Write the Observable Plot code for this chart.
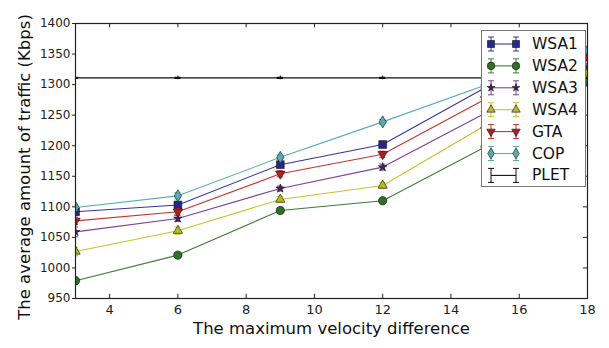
<!DOCTYPE html>
<html><head><meta charset="utf-8">
<script src="https://cdn.jsdelivr.net/npm/d3@7"></script>
<script src="https://cdn.jsdelivr.net/npm/@observablehq/plot@0.6"></script>
<style>
body{margin:0;background:#fff;font-family:"DejaVu Sans",sans-serif;}
#wrap{position:relative;width:609px;height:348px;}
#legend{position:absolute;left:481px;top:30px;width:105px;height:157px;background:#fff;border:1px solid #777;box-sizing:border-box;}
</style></head>
<body><div id="wrap"></div>
<script>
const xs = [3, 6, 9, 12, 15, 18];
const seriesNames = ["WSA1", "WSA2", "WSA3", "WSA4", "GTA", "COP", "PLET"];
const WSA1 = [1092, 1103, 1169, 1202, 1295, 1352];
const WSA2 = [979, 1021, 1094, 1110, 1198, 1304];
const WSA3 = [1059, 1081, 1130, 1165, 1253, 1329];
const WSA4 = [1027, 1061, 1112, 1135, 1233, 1319];
const GTA  = [1077, 1092, 1154, 1186, 1276, 1345];
const COP  = [1099, 1118, 1181, 1239, 1299, 1355];
const PLET = [1311, 1311, 1311, 1311, 1311, 1311];
const errWSA1 = [5, 4, 4, 4, 5, 5];
const errWSA2 = [6, 3, 4, 3, 5, 5];
const errWSA3 = [8, 5, 4, 5, 5, 6];
const errWSA4 = [7, 6, 5, 5, 5, 6];
const errGTA  = [6, 5, 5, 5, 5, 5];
const errCOP  = [5, 5, 4, 4, 5, 5];
const errPLET = [1, 1, 1, 1, 1, 1];
const xTicks = [4, 6, 8, 10, 12, 14, 16, 18];
const yTicks = [950, 1000, 1050, 1100, 1150, 1200, 1250, 1300, 1350, 1400];
const xLabel = "The maximum velocity difference";
const yLabel = "The average amount of traffic (Kbps)";

const triDown = {draw(ctx, size){const y=-Math.sqrt(size/(3*Math.sqrt(3)));ctx.moveTo(0,-y*2);ctx.lineTo(-Math.sqrt(3)*y,y);ctx.lineTo(Math.sqrt(3)*y,y);ctx.closePath();}};
const thinDiamond = {draw(ctx, size){const h=Math.sqrt(size)*0.62;const w=h*0.6;ctx.moveTo(0,-h);ctx.lineTo(w,0);ctx.lineTo(0,h);ctx.lineTo(-w,0);ctx.closePath();}};

const styles = {
  WSA1: {line: "#3434a0", fill: "#26268c", sym: "square", r: 4.4, vals: WSA1, err: errWSA1},
  WSA2: {line: "#3f7d33", fill: "#2f6f2a", sym: "circle", r: 4.2, vals: WSA2, err: errWSA2},
  WSA3: {line: "#7d4098", fill: "#4a1f60", sym: "star", r: 2.7, vals: WSA3, err: errWSA3},
  WSA4: {line: "#c4c42c", fill: "#b8b820", sym: "triangle", r: 3.5, vals: WSA4, err: errWSA4},
  GTA:  {line: "#c83232", fill: "#b41e1e", sym: triDown, r: 3.5, vals: GTA, err: errGTA},
  COP:  {line: "#5aabb3", fill: "#5aabb3", sym: thinDiamond, r: 5.5, vals: COP, err: errCOP},
  PLET: {line: "#111111", fill: "none", sym: null, r: 0, vals: PLET, err: errPLET}
};

const marks = [];
for (const name of seriesNames) {
  const s = styles[name];
  const data = xs.map((x, i) => ({x, y: s.vals[i], e: s.err[i]}));
  marks.push(Plot.line(data, {x: "x", y: "y", stroke: s.line, strokeWidth: 1.1, clip: true}));
  marks.push(Plot.ruleX(data, {x: "x", y1: d => d.y - d.e, y2: d => d.y + d.e, stroke: s.line, strokeWidth: 1, clip: true}));
  marks.push(Plot.ruleY(data, {y: d => d.y - d.e, x1: d => d.x - 0.09, x2: d => d.x + 0.09, stroke: s.line, strokeWidth: 1, clip: true}));
  marks.push(Plot.ruleY(data, {y: d => d.y + d.e, x1: d => d.x - 0.09, x2: d => d.x + 0.09, stroke: s.line, strokeWidth: 1, clip: true}));
  if (s.sym) marks.push(Plot.dot(data, {x: "x", y: "y", symbol: s.sym, r: s.r, fill: s.fill, stroke: "#111", strokeWidth: 0.6, clip: true}));
}

const chart = Plot.plot({
  width: 609, height: 348,
  marginLeft: 75, marginRight: 22, marginTop: 23, marginBottom: 50,
  style: {fontFamily: "DejaVu Sans, sans-serif", fontSize: "12px", color: "#222", background: "#fff"},
  x: {domain: [3, 18], ticks: xTicks, label: null},
  y: {domain: [950, 1400], ticks: yTicks, label: null},
  marks: [
    ...marks,
    Plot.ruleX(xs.slice(0, 5), {x: d => d, y1: 1308, y2: 1314, stroke: "#111", strokeWidth: 1, clip: true}),
    Plot.ruleY(xs.slice(0, 5), {y: 1311, x1: d => d - 0.09, x2: d => d + 0.09, stroke: "#111", strokeWidth: 1, clip: true}),
    Plot.frame({stroke: "#222", strokeWidth: 1.2}),
    Plot.axisX({ticks: xTicks, tickSize: 0, tickPadding: 6, fontSize: 13, label: null}),
    Plot.ruleX(xTicks, {x: d => d, y1: 950, y2: 957, stroke: "#222"}),
    Plot.ruleX(xTicks, {x: d => d, y1: 1400, y2: 1393, stroke: "#222"}),
    Plot.axisY({ticks: yTicks, tickSize: 3, tickPadding: 2, fontSize: 12, tickFormat: d3.format("d"), label: null}),
    Plot.ruleY(yTicks, {y: d => d, x1: 18, x2: 17.88, stroke: "#222"}),
    Plot.text([xLabel], {frameAnchor: "bottom", dy: 35, fontSize: 16.5, fill: "#111"}),
    Plot.text([yLabel], {frameAnchor: "left", textAnchor: "middle", rotate: -90, dx: -51, dy: 6, fontSize: 16.5, fill: "#111"})
  ]
});
const wrap = document.getElementById("wrap");
wrap.appendChild(chart);

// legend
const leg = document.createElement("div");
leg.id = "legend";
const ns = "http://www.w3.org/2000/svg";
const lsvg = document.createElementNS(ns, "svg");
lsvg.setAttribute("width", 105); lsvg.setAttribute("height", 157);
seriesNames.forEach((name, i) => {
  const s = styles[name];
  const cy = 13 + i * 21.9;
  const g = document.createElementNS(ns, "g");
  const mk = (tag, attrs) => {const e = document.createElementNS(ns, tag); for (const k in attrs) e.setAttribute(k, attrs[k]); g.appendChild(e); return e;};
  mk("line", {x1: 9, x2: 34, y1: cy, y2: cy, stroke: s.line, "stroke-width": 1.1});
  for (const px of [9, 34]) {
    mk("line", {x1: px, x2: px, y1: cy - 7, y2: cy + 7, stroke: s.line, "stroke-width": 1});
    mk("line", {x1: px - 3, x2: px + 3, y1: cy - 7, y2: cy - 7, stroke: s.line, "stroke-width": 1});
    mk("line", {x1: px - 3, x2: px + 3, y1: cy + 7, y2: cy + 7, stroke: s.line, "stroke-width": 1});
    if (s.sym) {
      const type = typeof s.sym === "string" ? {square: d3.symbolSquare, circle: d3.symbolCircle, star: d3.symbolStar, triangle: d3.symbolTriangle}[s.sym] : s.sym;
      const rr = s.r * 0.9;
      mk("path", {d: d3.symbol(type, rr * rr * Math.PI)(), transform: `translate(${px},${cy})`, fill: s.fill, stroke: "#111", "stroke-width": 0.6});
    }
  }
  const t = mk("text", {x: 50, y: cy, "dominant-baseline": "central", "font-size": 15.5, fill: "#111", "font-family": "DejaVu Sans, sans-serif"});
  t.textContent = name;
  lsvg.appendChild(g);
});
leg.appendChild(lsvg);
wrap.appendChild(leg);
</script></body></html>
